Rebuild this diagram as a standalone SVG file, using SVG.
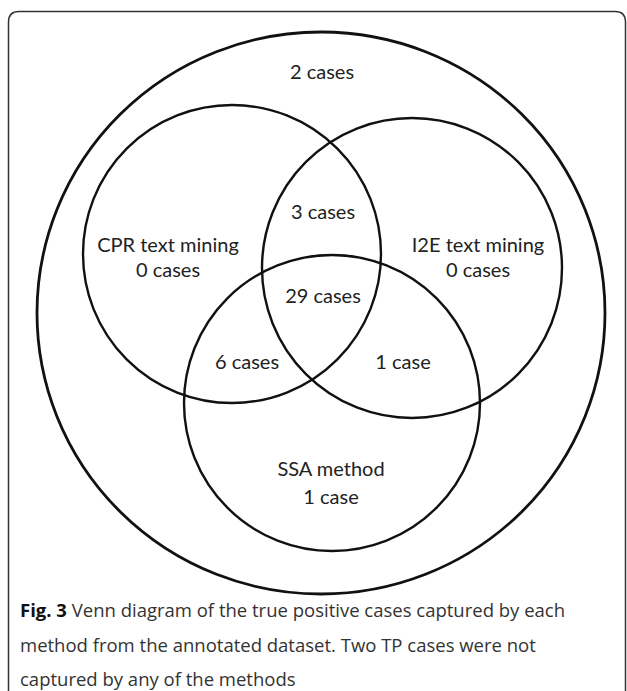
<svg xmlns="http://www.w3.org/2000/svg" width="627" height="691" viewBox="0 0 627 691">
<style>
.frame{fill:none;stroke:#333;stroke-width:1.5}
.set{fill:none;stroke:#111;stroke-width:2.4}
.outer{fill:none;stroke:#111;stroke-width:2.8}
.lbl{font-family:Lato,"Liberation Sans",Arial,sans-serif;font-size:20px;fill:#222;text-anchor:middle}
.cap{font-family:"Open Sans","Liberation Sans",sans-serif;font-size:18.5px;fill:#333}
.capb{font-weight:bold;fill:#111}
</style>
<rect width="627" height="691" fill="#fff"/>
<path class="frame" d="M8.5 691 V22 Q8.5 11.5 19 11.5 H615 Q625.5 11.5 625.5 22 V691"/>
<g id="universe">
<ellipse class="outer" cx="321" cy="313" rx="284" ry="281"/>
<text class="lbl" x="322" y="79">2 cases</text>
</g>
<g id="cpr">
<circle class="set" cx="232" cy="254" r="149"/>
<text class="lbl" x="168" y="252">CPR text mining</text>
<text class="lbl" x="168" y="277">0 cases</text>
</g>
<g id="i2e">
<circle class="set" cx="412" cy="268" r="150"/>
<text class="lbl" x="478" y="252">I2E text mining</text>
<text class="lbl" x="478" y="277">0 cases</text>
</g>
<g id="ssa">
<circle class="set" cx="332" cy="403" r="148"/>
<text class="lbl" x="331" y="476">SSA method</text>
<text class="lbl" x="331" y="504">1 case</text>
</g>
<g id="regions">
<text class="lbl" x="323" y="219">3 cases</text>
<text class="lbl" x="323" y="303">29 cases</text>
<text class="lbl" x="247" y="369">6 cases</text>
<text class="lbl" x="403" y="369">1 case</text>
</g>
<g id="connectors"></g>
<g id="caption">
<text class="cap" x="20" y="617"><tspan class="capb">Fig. 3</tspan> Venn diagram of the true positive cases captured by each</text>
<text class="cap" x="20" y="652">method from the annotated dataset. Two TP cases were not</text>
<text class="cap" x="20" y="686">captured by any of the methods</text>
</g>
</svg>
